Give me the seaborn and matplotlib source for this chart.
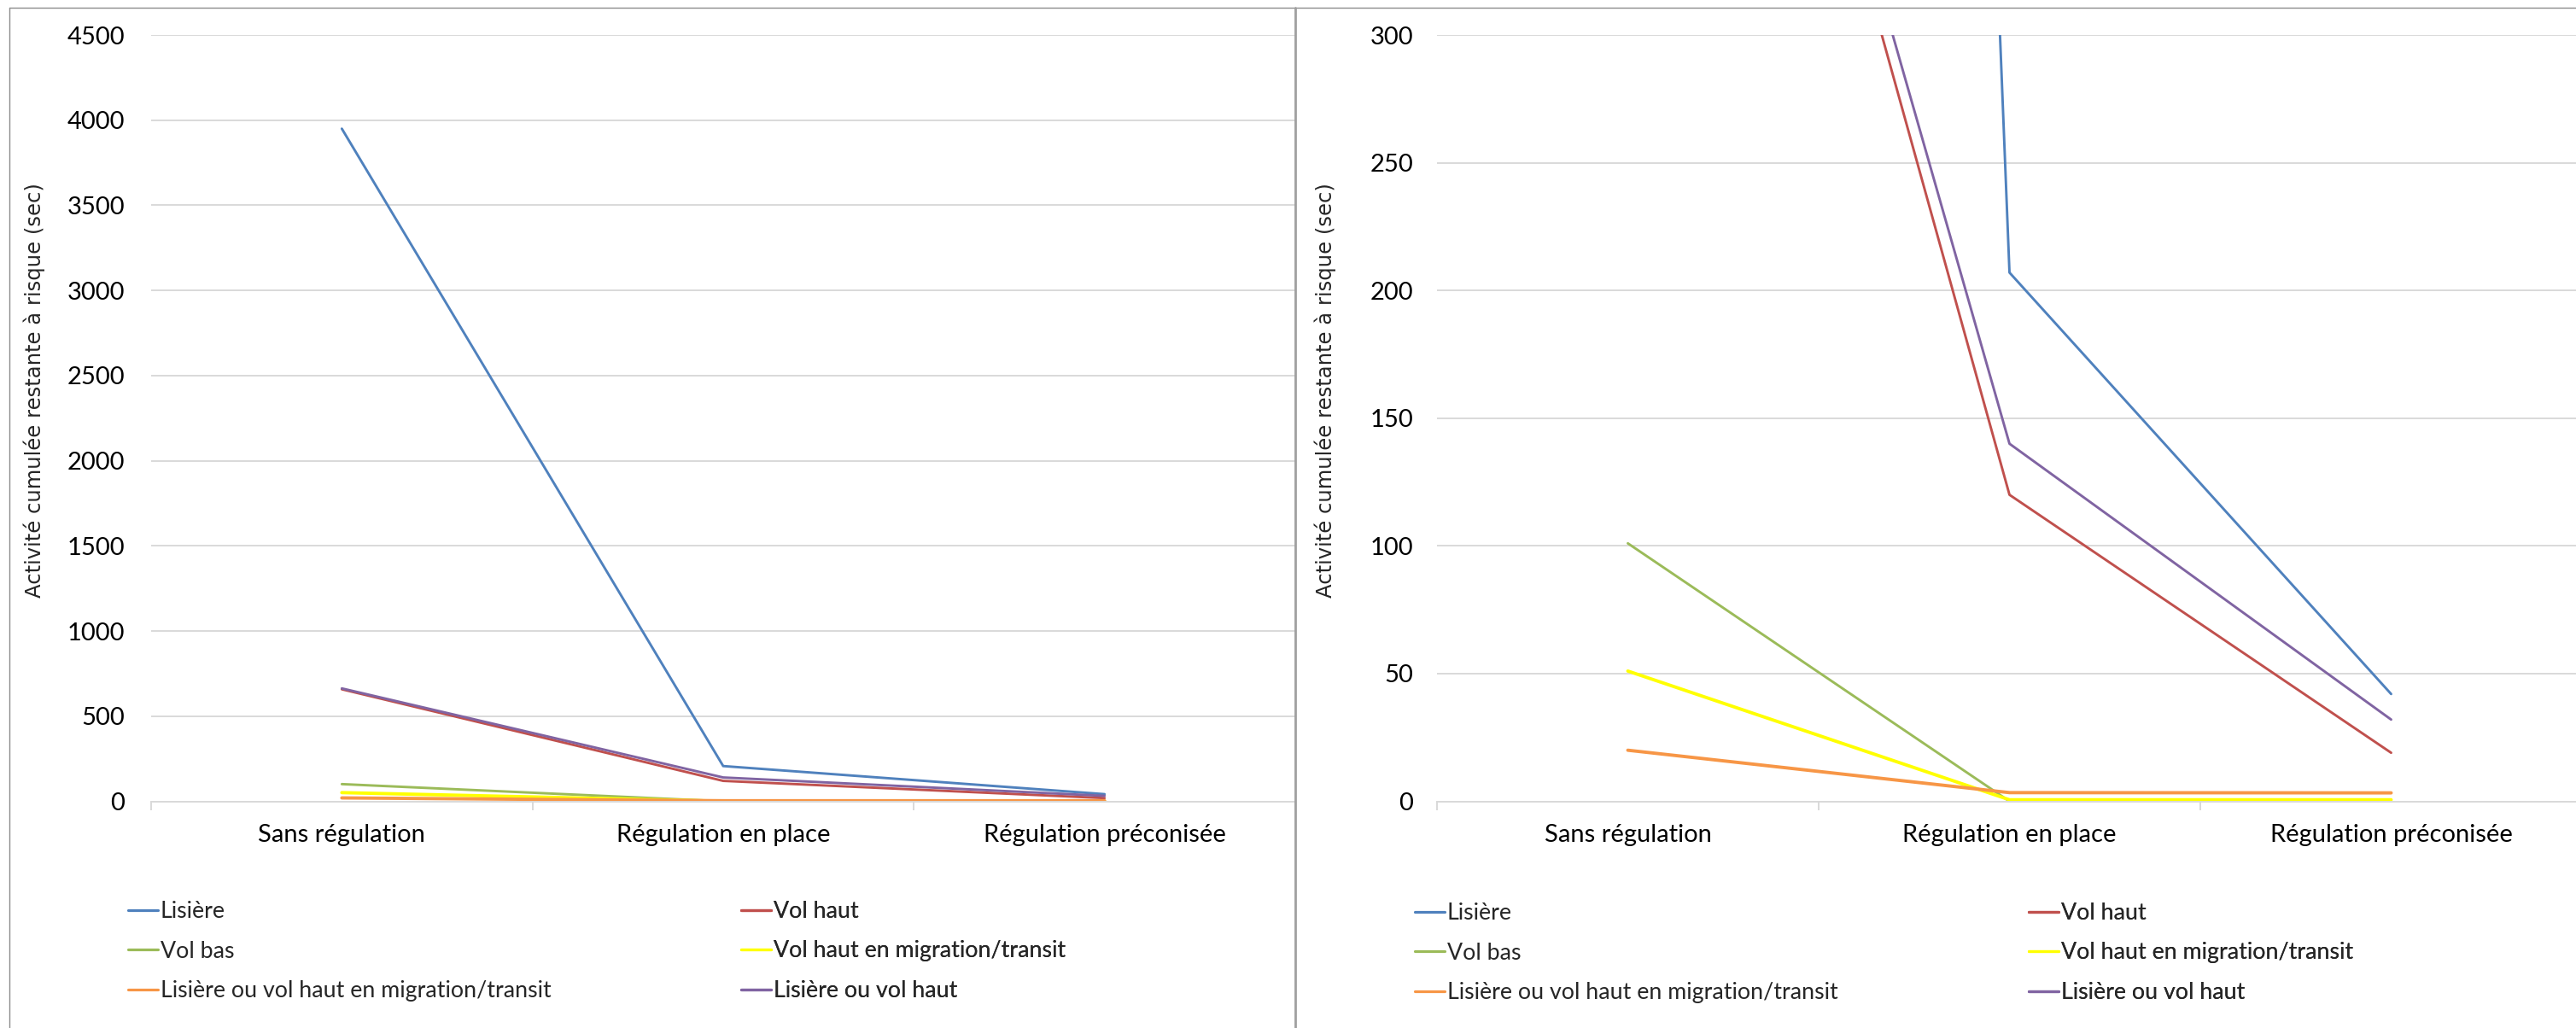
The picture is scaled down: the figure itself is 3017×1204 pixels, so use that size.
import numpy as np
import pandas as pd
import matplotlib
matplotlib.use("Agg")
import matplotlib.pyplot as plt
from matplotlib.lines import Line2D
import seaborn as sns

# ---------------- data ----------------
categories = ["Sans régulation", "Régulation en place", "Régulation préconisée"]
series_names = [
    "Lisière",
    "Vol haut",
    "Vol bas",
    "Vol haut en migration/transit",
    "Lisière ou vol haut en migration/transit",
    "Lisière ou vol haut",
]
lisiere = [3950, 207, 42]
vol_haut = [658, 120, 19]
vol_bas = [101, 0, 0]
vol_haut_migration = [51, 0.6, 0.6]
lisiere_ou_vol_haut_migration = [20, 3.4, 3.3]
lisiere_ou_vol_haut = [663, 140, 32]
series_values = [lisiere, vol_haut, vol_bas, vol_haut_migration,
                 lisiere_ou_vol_haut_migration, lisiere_ou_vol_haut]
colors = ["#4F81BD", "#C0504D", "#9BBB59", "#FFFF00", "#F79646", "#8064A2"]
widths = [2.1, 2.1, 2.1, 2.8, 2.8, 2.1]

left_ticks = [0, 500, 1000, 1500, 2000, 2500, 3000, 3500, 4000, 4500]
right_ticks = [0, 50, 100, 150, 200, 250, 300]
ylabel = "Activité cumulée restante à risque (sec)"

rows = []
for name, vals in zip(series_names, series_values):
    for i, v in enumerate(vals):
        rows.append({"pos": i, "cat": categories[i], "serie": name, "val": v})
df = pd.DataFrame(rows)

# ---------------- style ----------------
sns.set_theme(style="white")
plt.rcParams["font.family"] = ["Lato", "DejaVu Sans"]

W, H = 3017, 1204
fig = plt.figure(figsize=(W / 100, H / 100), dpi=100)
fig.patch.set_facecolor("white")

GRID = "#d9d9d9"
TICK_FS = 21
LEG_FS = 19.3

def make_panel(rect, yticks, ypad):
    ax = fig.add_axes(rect)
    for name, col, lw in zip(series_names, colors, widths):
        sub = df[df["serie"] == name]
        sns.lineplot(data=sub, x="pos", y="val", ax=ax, color=col,
                     linewidth=lw, sort=False, legend=False, label=None)
    ax.set_ylim(yticks[0], yticks[-1])
    ax.set_xlim(-0.5, len(categories) - 0.5)
    ax.set_yticks(yticks)
    ax.set_yticklabels([str(t) for t in yticks])
    ax.set_xticks(range(len(categories)))
    ax.set_xticklabels(categories)
    ax.set_xticks(np.arange(-0.5, len(categories), 1.0), minor=True)
    ax.yaxis.grid(True, color=GRID, linewidth=1.4)
    ax.xaxis.grid(False)
    ax.set_axisbelow(True)
    for s in ["left", "right", "top"]:
        ax.spines[s].set_visible(False)
    ax.spines["bottom"].set_color(GRID)
    ax.spines["bottom"].set_linewidth(1.4)
    ax.tick_params(axis="y", length=0, pad=ypad, labelsize=TICK_FS, labelcolor="#000000")
    ax.tick_params(axis="x", which="major", length=0, pad=19, labelsize=TICK_FS, labelcolor="#000000")
    ax.tick_params(axis="x", which="minor", length=7, width=1.4, color=GRID, bottom=True)
    ax.set_xlabel("")
    ax.set_ylabel("")
    ax.set_facecolor("white")
    return ax

bottom = 1 - 938.5 / H
height = 897.5 / H
axL = make_panel([177 / W, bottom, (1517 - 177) / W, height], left_ticks, 22)
axR = make_panel([1683 / W, bottom, 1341 / W, height], right_ticks, 20)

fig.text(40 / W, 1 - 457 / H, ylabel, rotation=90, ha="center", va="center",
         fontsize=17.5, family="DejaVu Sans")
fig.text(1552 / W, 1 - 457 / H, ylabel, rotation=90, ha="center", va="center",
         fontsize=17.5, family="DejaVu Sans")

# ---------------- legends (Excel row-major order, 2 columns) ----------------
def handle(i):
    return Line2D([], [], color=colors[i], linewidth=2.3)

col1 = [0, 2, 4]
col2 = [1, 3, 5]

def add_legends(ax, x1, x2, yc):
    for idx, x in ((col1, x1), (col2, x2)):
        leg = ax.legend([handle(i) for i in idx], [series_names[i] for i in idx],
                        loc="center left", bbox_to_anchor=(x / W, 1 - yc / H),
                        bbox_transform=fig.transFigure, frameon=False,
                        borderpad=0, borderaxespad=0, handlelength=1.3,
                        handletextpad=0.1, labelspacing=0.8, fontsize=LEG_FS)
        ax.add_artist(leg)

add_legends(axL, 150, 868, 1114)
add_legends(axR, 1657, 2376, 1116)

# ---------------- chart borders ----------------
BORDER = "#a0a0a0"
fig.add_artist(Line2D([11 / W, 11 / W], [0, 1 - 9 / H], transform=fig.transFigure,
                      color="#8c8c8c", linewidth=1.0))
fig.add_artist(Line2D([11 / W, 1], [1 - 9 / H, 1 - 9 / H], transform=fig.transFigure,
                      color="#8c8c8c", linewidth=1.0))
fig.add_artist(Line2D([1517 / W, 1517 / W], [0, 1 - 9 / H], transform=fig.transFigure,
                      color=BORDER, linewidth=2.0))

fig.savefig("out.png", dpi=100, facecolor="white")
